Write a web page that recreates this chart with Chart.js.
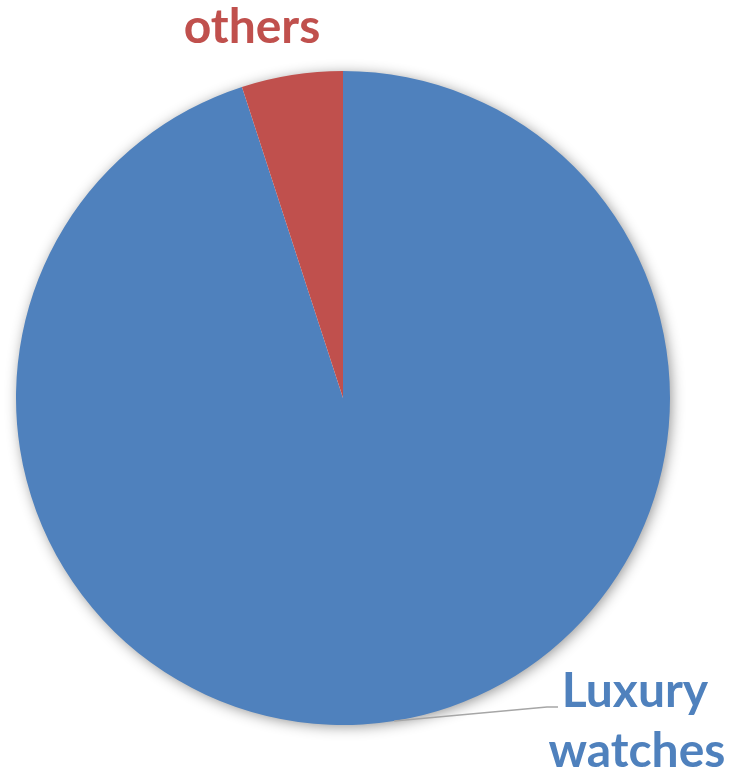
<!DOCTYPE html>
<html>
<head>
<meta charset="utf-8">
<script src="https://cdn.jsdelivr.net/npm/chart.js@4"></script>
<style>
  html, body { margin: 0; padding: 0; background: #fff; }
  #wrap { width: 730px; height: 777px; position: relative; }
</style>
</head>
<body>
<div id="wrap"><canvas id="pie"></canvas></div>
<script>
// data
const labels = ['Luxury watches', 'others'];
const values = [95, 5];
const colors = ['#4F81BD', '#C0504D'];

const FONT = 'Lato, Carlito, Calibri, sans-serif';

// soft drop shadow behind the whole pie
const pieShadow = {
  id: 'pieShadow',
  beforeDatasetsDraw(chart) {
    const arc = chart.getDatasetMeta(0).data[0];
    if (!arc) return;
    const ctx = chart.ctx;
    ctx.save();
    ctx.shadowColor = 'rgba(0,0,0,0.45)';
    ctx.shadowBlur = 14;
    ctx.shadowOffsetX = 2;
    ctx.shadowOffsetY = 2;
    ctx.fillStyle = '#fff';
    ctx.beginPath();
    ctx.arc(arc.x, arc.y, arc.outerRadius - 1, 0, Math.PI * 2);
    ctx.fill();
    ctx.restore();
  }
};

// outside labels with leader line (Excel style)
const outLabels = {
  id: 'outLabels',
  afterDatasetsDraw(chart) {
    const meta = chart.getDatasetMeta(0);
    const ctx = chart.ctx;
    const big = meta.data[0];
    const cx = big.x, cy = big.y, r = big.outerRadius;

    ctx.save();
    ctx.font = 'bold 48px ' + FONT;
    ctx.textAlign = 'center';
    ctx.textBaseline = 'alphabetic';

    // others, above the pie
    ctx.fillStyle = colors[1];
    ctx.fillText(labels[1], cx - 91, cy - 355);

    // Luxury watches, lower right with leader
    const mid = (big.startAngle + big.endAngle) / 2;
    const sx = cx + Math.cos(mid) * r, sy = cy + Math.sin(mid) * r;
    ctx.strokeStyle = '#A6A6A6';
    ctx.lineWidth = 1.5;
    ctx.beginPath();
    ctx.moveTo(sx, sy);
    ctx.lineTo(cx + 204, cy + 309);
    ctx.lineTo(cx + 215, cy + 309);
    ctx.stroke();

    ctx.fillStyle = colors[0];
    const words = labels[0].split(' ');
    ctx.fillText(words[0], cx + 292, cy + 309);
    ctx.fillText(words[1], cx + 294, cy + 369);
    ctx.restore();
  }
};

new Chart(document.getElementById('pie'), {
  type: 'pie',
  data: {
    labels: labels,
    datasets: [{
      data: values,
      backgroundColor: colors,
      borderWidth: 0
    }]
  },
  options: {
    responsive: true,
    maintainAspectRatio: false,
    animation: false,
    layout: { padding: { left: 16, right: 60, top: 71, bottom: 52 } },
    plugins: { legend: { display: false }, tooltip: { enabled: false } }
  },
  plugins: [pieShadow, outLabels]
});
</script>
</body>
</html>
